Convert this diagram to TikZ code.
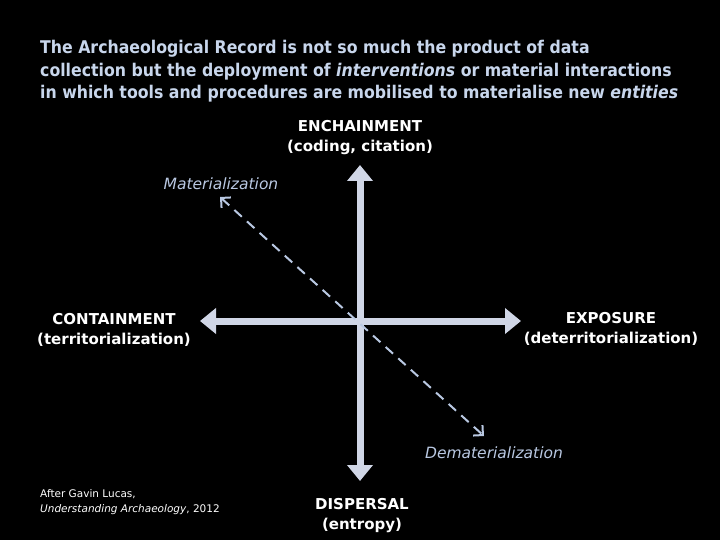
\documentclass[tikz,border=0pt]{standalone}
\usepackage{fontspec}
\setmainfont{DejaVu Sans}
\usetikzlibrary{positioning,arrows.meta}

\definecolor{titleblue}{RGB}{200,214,236}
\definecolor{axisgrey}{RGB}{208,214,230}
\definecolor{labelblue}{RGB}{185,200,226}

\begin{document}
\begin{tikzpicture}[
  x=1pt, y=-1pt,
  every node/.style={align=center, inner sep=0pt, text=white},
  axis/.style={draw=axisgrey, line width=7pt, {Triangle[length=16pt,width=25pt]}-{Triangle[length=16pt,width=25pt]}},
  flow/.style={draw=labelblue, line width=2pt, dash pattern=on 10pt off 7pt, {Straight Barb[length=7pt,width=14pt]}-{Straight Barb[length=7pt,width=14pt]}},
  pole/.style={font=\fontsize{15}{20}\selectfont\bfseries},
  flowlabel/.style={font=\fontsize{15.5}{18}\selectfont\itshape, text=labelblue},
  heading/.style={font=\fontsize{17.5}{22.6}\selectfont\bfseries, text=titleblue, align=left, anchor=north west, xscale=0.9, transform shape},
  credit/.style={font=\fontsize{10.5}{15}\selectfont, align=left, anchor=north west}
]

\fill[black] (0,0) rectangle (720,540);
\useasboundingbox (0,0) rectangle (720,540);

\node[heading] (title) at (40,40) {The Archaeological Record is not so much the product of data\\collection but the deployment of \textit{interventions} or material interactions\\in which tools and procedures are mobilised to materialise new \textit{entities}};

\coordinate (top) at (360,165);
\coordinate (bottom) at (360,481);
\coordinate (left) at (200,321);
\coordinate (right) at (521,321);
\coordinate (mat) at (220,197);
\coordinate (demat) at (484,436);

\draw[axis] (bottom) -- (top);
\draw[axis] (left) -- (right);
\draw[flow] (mat) -- (demat);

\node[pole] (enchain) at (360,138) {ENCHAINMENT\\(coding, citation)};
\node[pole] (contain) at (114,330) {CONTAINMENT\\(territorialization)};
\node[pole] (expose) at (611,329) {EXPOSURE\\(deterritorialization)};
\node[pole] (disperse) at (362,516) {DISPERSAL\\(entropy)};

\node[flowlabel] (matlabel) at (221,184) {Materialization};
\node[flowlabel] (dematlabel) at (494,453) {Dematerialization};

\node[credit] (source) at (40,489) {After Gavin Lucas,\\\textit{Understanding Archaeology}, 2012};

\end{tikzpicture}
\end{document}
